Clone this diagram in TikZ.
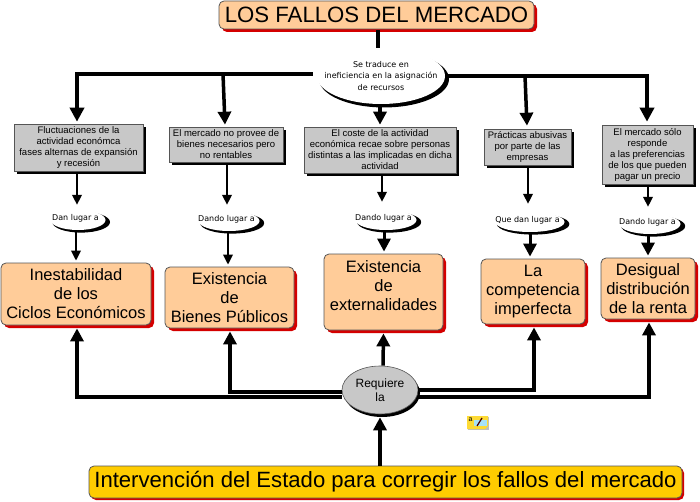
\documentclass[tikz,border=0pt]{standalone}
\usepackage{fontspec}
\setmainfont{Liberation Sans}
\newfontfamily\verd{DejaVu Sans}
\usetikzlibrary{arrows.meta,shapes.geometric,shadows,calc}
\definecolor{orangebox}{HTML}{FFCC99}
\definecolor{greybox}{HTML}{C8C8C8}
\definecolor{goldbox}{HTML}{FFCC00}
\definecolor{redshadow}{HTML}{D40000}
\definecolor{edgegrey}{HTML}{555555}
\newcommand{\fnt}[2]{\fontsize{#1pt}{#2pt}\selectfont}
\newcommand{\lug}[1]{#1\hspace{5pt}\rule[-6pt]{0pt}{6pt}}
\tikzset{
  redshad/.style={drop shadow={shadow xshift=3pt,shadow yshift=-3pt,fill=redshadow,opacity=1}},
  blackshad/.style={drop shadow={shadow xshift=3pt,shadow yshift=-3pt,fill=black,opacity=1}},
  title/.style={rectangle,rounded corners=5pt,draw=edgegrey,line width=.8pt,fill=orangebox,redshad,inner sep=0pt,text=black,font=\fnt{22.2}{26}},
  effect/.style={rectangle,rounded corners=5pt,draw=edgegrey,line width=.8pt,fill=orangebox,redshad,inner sep=0pt,align=center,font=\fnt{16.5}{19}},
  cause/.style={rectangle,draw=edgegrey,line width=.6pt,fill=greybox,blackshad,inner sep=0pt,align=center,font=\fnt{9.5}{11}},
  state/.style={rectangle,rounded corners=5pt,draw=edgegrey,line width=.8pt,fill=goldbox,drop shadow={shadow xshift=2pt,shadow yshift=-2pt,fill=redshadow,opacity=1},inner sep=0pt,font=\fnt{22.1}{26}},
  bigell/.style={ellipse,fill=white,drop shadow={shadow xshift=3pt,shadow yshift=-3pt,shadow scale=1.015,fill=black,opacity=1},inner xsep=-30pt,inner ysep=-15pt,align=center,font=\verd\fnt{8}{11.5}},
  lugar/.style={ellipse,fill=white,drop shadow={shadow xshift=3pt,shadow yshift=-2pt,shadow scale=1.05,fill=black,opacity=1},inner xsep=-30pt,inner ysep=-15pt,align=center,font=\verd\fnt{8}{10},minimum height=20pt},
  reqell/.style={ellipse,draw=edgegrey,line width=.6pt,fill=greybox,drop shadow={shadow xshift=2pt,shadow yshift=-3pt,fill=black,opacity=1},inner xsep=-15pt,inner ysep=-10pt,align=center,font=\fnt{12}{14}},
  big/.style={draw=black,line width=4.5pt,-{Triangle[width=14pt,length=14pt]}},
  med/.style={draw=black,line width=3.5pt,-{Triangle[width=13pt,length=13pt]}},
  thin/.style={draw=black,line width=2pt,-{Triangle[width=9.5pt,length=10pt]}},
}
\begin{document}
\begin{tikzpicture}[x=1pt,y=-1pt]
\useasboundingbox[fill=white] (0,0) rectangle (700,502);
% nodes
\node[title,minimum width=315pt,minimum height=28pt] (t) at (376.5,15) {LOS FALLOS DEL MERCADO};
\node[bigell,minimum width=128pt,minimum height=56pt] (e1) at (381,76) {Se traduce en\\ineficiencia en la asignación\\de recursos};

\node[cause,minimum width=129pt,minimum height=47pt] (g1) at (78.5,147.5) {Fluctuaciones de la\\actividad económca\\fases alternas de expansión\\y recesión};
\node[cause,minimum width=114pt,minimum height=35pt] (g2) at (226,144.5) {El mercado no provee de\\bienes necesarios pero\\no rentables};
\node[cause,minimum width=152pt,minimum height=46pt] (g3) at (380,150) {El coste de la actividad\\económica recae sobre personas\\distintas a las implicadas en dicha\\actividad};
\node[cause,minimum width=87pt,minimum height=36pt] (g4) at (527.5,147) {Prácticas abusivas\\por parte de las\\empresas};
\node[cause,minimum width=91pt,minimum height=59pt] (g5) at (647.5,154.5) {El mercado sólo\\responde\\a las preferencias\\de los que pueden\\pagar un precio};

\node[lugar,minimum width=55pt] (l1) at (78,220) {\lug{Dan lugar a}};
\node[lugar,minimum width=61pt] (l2) at (229,221) {\lug{Dando lugar a}};
\node[lugar,minimum width=61pt] (l3) at (386,220) {\lug{Dando lugar a}};
\node[lugar,minimum width=69pt] (l4) at (530,222) {\lug{Que dan lugar a}};
\node[lugar,minimum width=61pt] (l5) at (650,224) {\lug{Dando lugar a}};

\node[effect,minimum width=150pt,minimum height=62pt] (o1) at (76,294) {Inestabilidad\\de los\\Ciclos Económicos};
\node[effect,minimum width=129pt,minimum height=61pt] (o2) at (229.5,297.5) {Existencia\\de\\Bienes Públicos};
\node[effect,minimum width=119pt,minimum height=76pt] (o3) at (383.5,292) {Existencia\\de\\externalidades\rule[-12pt]{0pt}{12pt}};
\node[effect,minimum width=104pt,minimum height=65pt] (o4) at (533,291.5) {La\\competencia\\imperfecta};
\node[effect,minimum width=94pt,minimum height=61pt] (o5) at (648,288.5) {Desigual\\distribución\\de la renta};

\node[reqell,minimum width=76pt,minimum height=48pt] (r) at (380,390) {Requiere\\la};
\node[state,minimum width=593pt,minimum height=32pt] (s) at (385.5,482) {Intervención del Estado para corregir los fallos del mercado};

% junctions on the upper bus
\coordinate (j1) at (223,74);
\coordinate (j2) at (525,76);

% connectors, top
\draw[draw=black,line width=4pt] ([xshift=1.5pt,yshift=-1pt]t.south) -- (e1.north -| 378,0);
\draw[big] ([shift={(-4pt,2pt)}]e1.west) -| ([xshift=-1.5pt,yshift=2pt]g1.north);
\draw[med] (j1) -- ([xshift=-1pt,yshift=2pt]g2.north);
\draw[med] ([xshift=-1pt]e1.south) -- ([yshift=2pt]g3.north);
\draw[big] (e1.east) -| ([xshift=-.5pt,yshift=3pt]g5.north);
\draw[med] (j2) -- ([xshift=-.5pt,yshift=3pt]g4.north);

% connectors, cause to lugar to effect
\foreach \g/\l/\dx/\lx/\ly in {g1/l1/-1.5/-1/5,g2/l2/1/-2/6,g3/l3/2/-4/8,g4/l4/0.5/-2/8,g5/l5/0.5/-2/7}{
  \draw[thin] ([xshift=\dx pt,yshift=-3pt]\g.south) -- ([xshift=\lx pt,yshift=\ly pt]\l.north);
}
\draw[thin] ([xshift=-2pt]l1.south) -- ([yshift=2pt]o1.north);
\draw[thin] ([xshift=-1pt]l2.south) -- ([xshift=-1.5pt,yshift=2pt]o2.north);
\draw[med,line width=3pt] ([xshift=-2pt]l3.south) -- ([xshift=.5pt,yshift=2pt]o3.north);
\draw[med,line width=3pt] (l4.south) -- ([xshift=-3pt,yshift=2pt]o4.north);
\draw[med,line width=3pt] ([xshift=-2pt]l5.south) -- ([yshift=2pt]o5.north);

% connectors, Requiere la
\draw[med] ([yshift=-7pt]r.west) -| ([xshift=1pt,yshift=-3pt]o1.south);
\draw[med] ([yshift=-2pt]r.west) -| ([xshift=.5pt,yshift=-3pt]o2.south);
\draw[med] ([xshift=3pt]r.north) -- ([yshift=-3pt]o3.south);
\draw[med] ([yshift=0pt]r.east) -| ([xshift=1pt,yshift=-3pt]o4.south);
\draw[med] ([yshift=-7pt]r.east) -| ([xshift=1pt,yshift=-3pt]o5.south);
\draw[med] (s.north -| r.south) -- ([yshift=-3pt]r.south);

% little note icon
\fill[black!25] (468,417) rectangle (489,430);
\fill[yellow!70!orange!80] (467,416) -- (488,416) -- (488,426) -- (485,429) -- (467,429) -- cycle;
\fill[cyan!35] (474,420) rectangle (487,426);
\draw[black!70!red,line width=1.2pt] (477,426) -- (482,418);
\node[inner sep=0pt,font=\fnt{7}{8}] (ic) at (470.5,419.5) {a};
\end{tikzpicture}
\end{document}
